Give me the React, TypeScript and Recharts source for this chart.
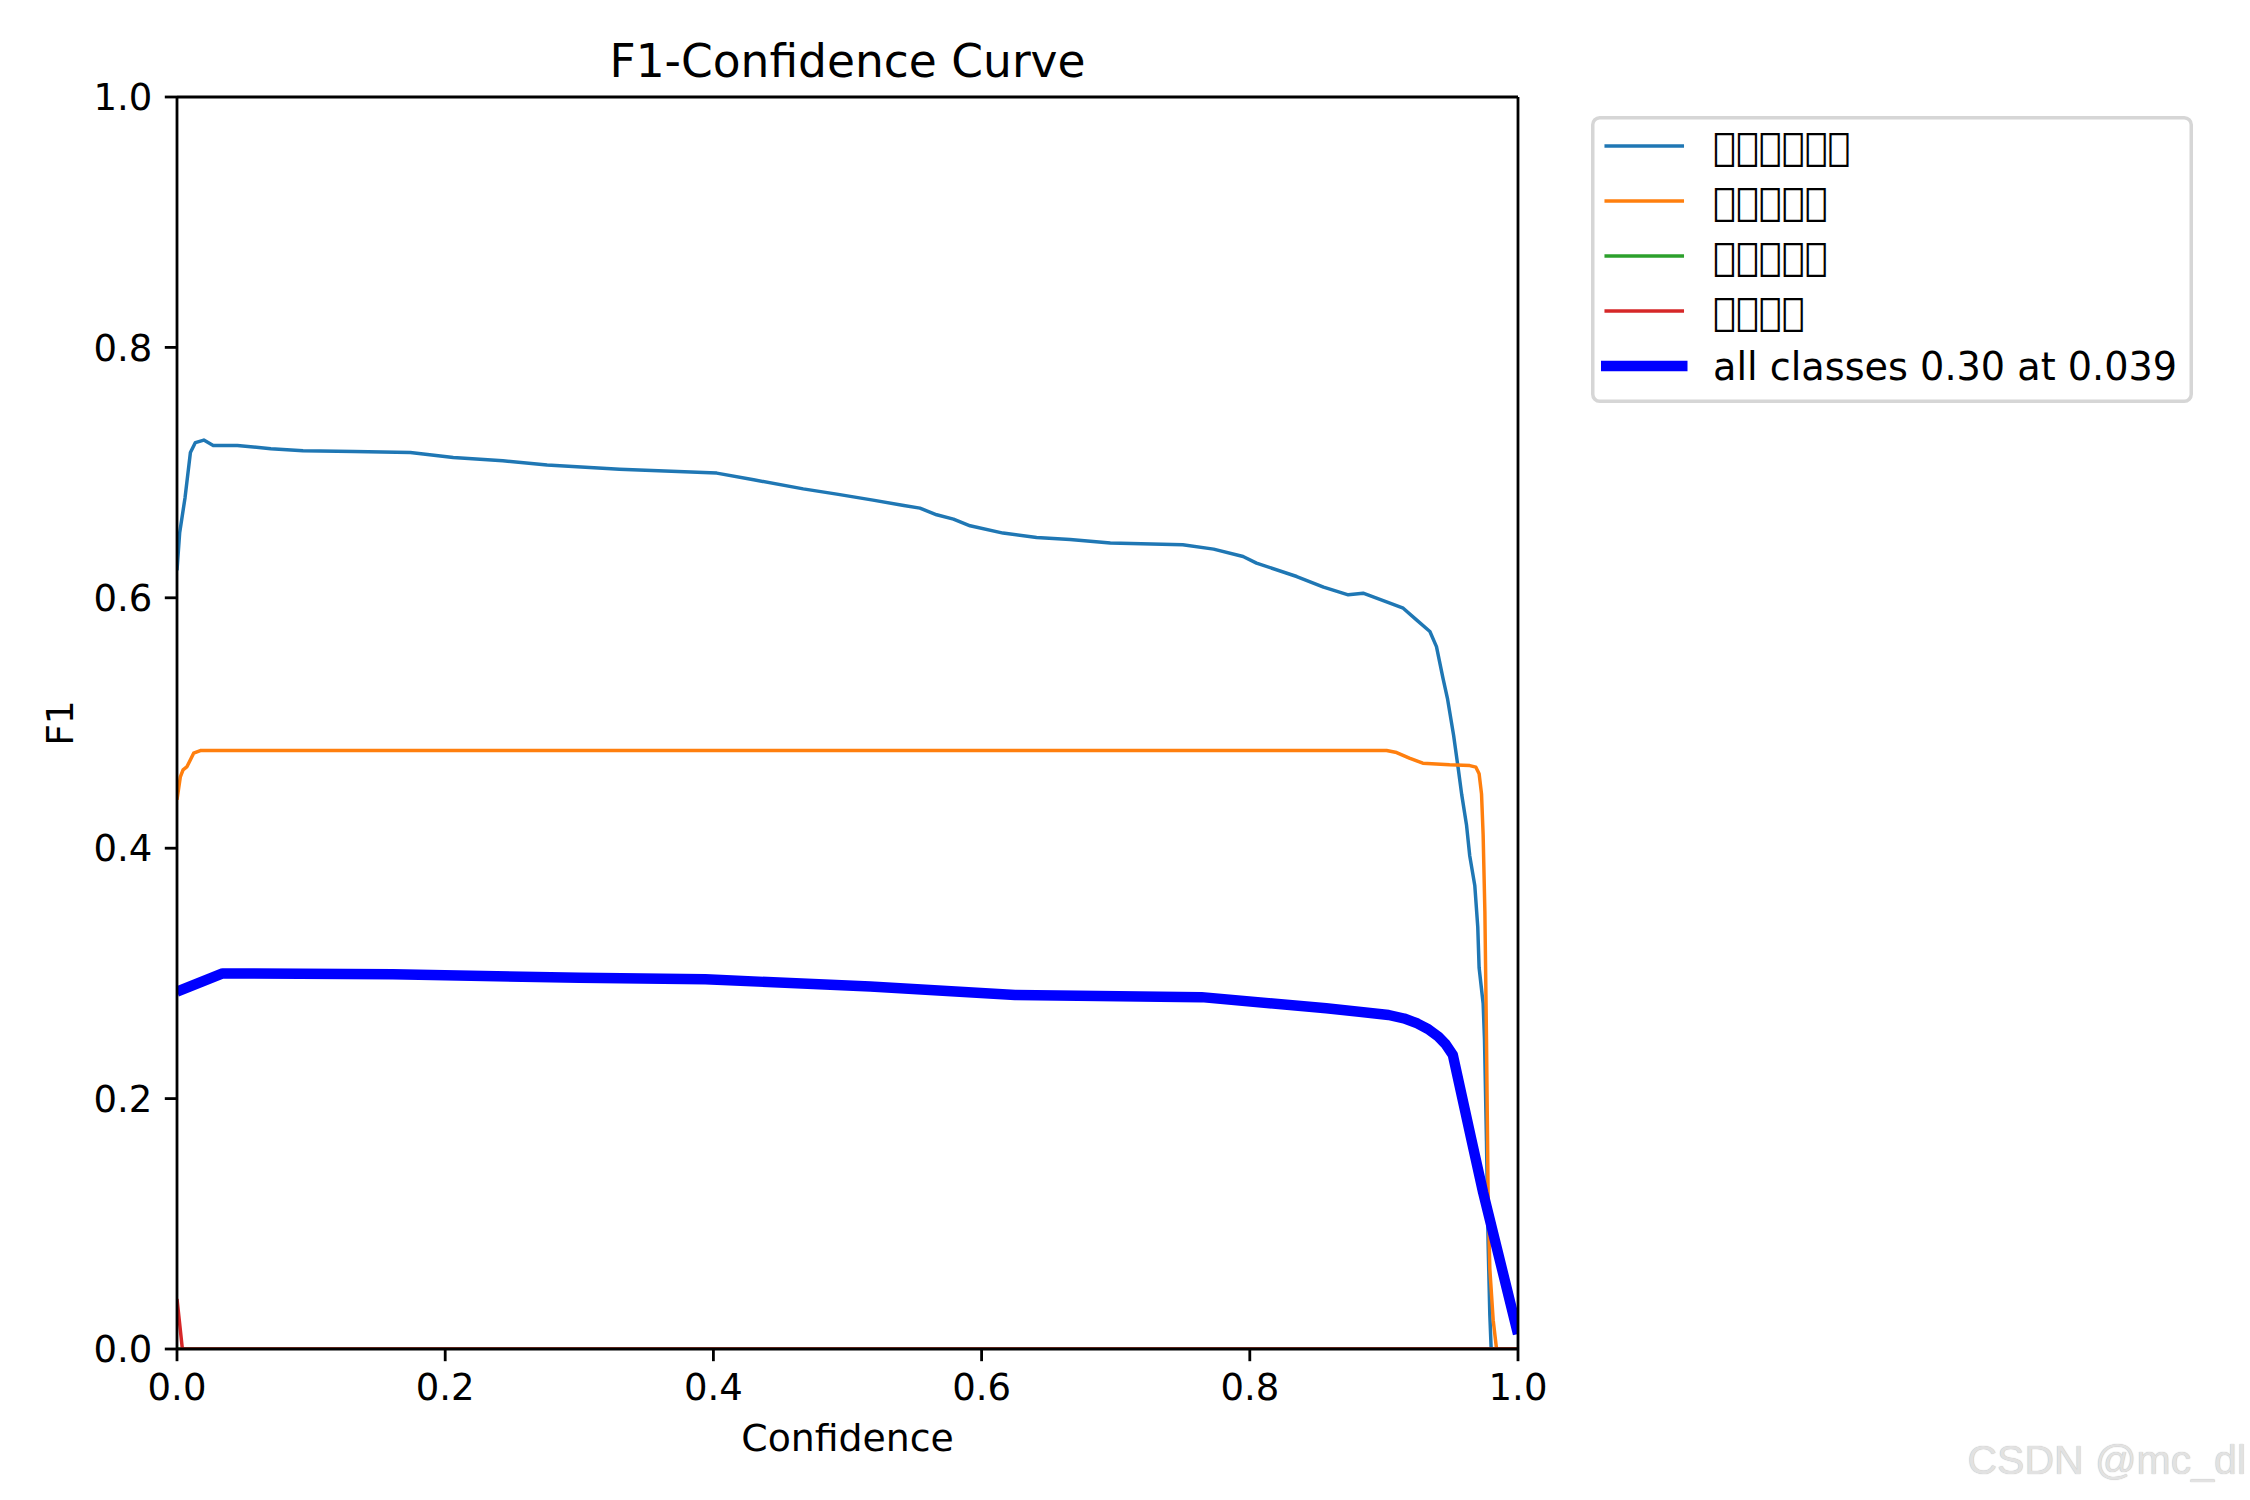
import React from 'react';
import { LineChart, Line, XAxis, YAxis, Legend, Label, ReferenceLine } from 'recharts';

// ---- tick values ----
const xTicks = [0, 0.2, 0.4, 0.6, 0.8, 1.0];
const yTicks = [0, 0.2, 0.4, 0.6, 0.8, 1.0];

// ---- class names (Chinese names rendered as missing-glyph boxes in the source) ----
const classNames = [
  '\uE000\uE000\uE000\uE000\uE000\uE000',
  '\uE000\uE000\uE000\uE000\uE000',
  '\uE000\uE000\uE000\uE000\uE000',
  '\uE000\uE000\uE000\uE000',
];
const allClassesName = 'all classes 0.30 at 0.039';
const chartTitle = 'F1-Confidence Curve';
const xLabel = 'Confidence';
const yLabel = 'F1';
const watermark = 'CSDN @mc_dl';

// ---- class 0 (blue) ----
const class0Conf = [0, 0.002, 0.006, 0.010, 0.0137, 0.020, 0.027, 0.045, 0.070, 0.094, 0.132, 0.174, 0.206, 0.243, 0.276, 0.330, 0.4025, 0.430, 0.467, 0.492, 0.519, 0.542, 0.554, 0.5665, 0.579, 0.5914, 0.616, 0.641, 0.666, 0.696, 0.750, 0.773, 0.795, 0.805, 0.835, 0.855, 0.8734, 0.8845, 0.8995, 0.9144, 0.9243, 0.9343, 0.9392, 0.944, 0.9475, 0.952, 0.9555, 0.958, 0.9616, 0.964, 0.9678, 0.970, 0.971, 0.974, 0.975, 0.9765, 0.9777, 0.979, 0.980, 1.0];
const class0F1 = [0.622, 0.652, 0.680, 0.716, 0.724, 0.726, 0.7217, 0.7217, 0.719, 0.7174, 0.7169, 0.716, 0.712, 0.7094, 0.706, 0.7026, 0.6996, 0.6943, 0.687, 0.6828, 0.678, 0.6737, 0.6716, 0.6663, 0.6628, 0.6575, 0.6517, 0.6482, 0.6466, 0.6437, 0.6423, 0.6389, 0.633, 0.6277, 0.617, 0.6085, 0.6024, 0.6037, 0.5978, 0.5917, 0.5824, 0.5731, 0.561, 0.536, 0.519, 0.49, 0.463, 0.443, 0.4186, 0.394, 0.370, 0.337, 0.3045, 0.276, 0.2476, 0.166, 0.0847, 0.027, 0.0, 0.0];

// ---- class 1 (orange) ----
const class1Conf = [0, 0.0025, 0.0045, 0.0075, 0.0124, 0.0174, 0.902, 0.9095, 0.919, 0.929, 0.949, 0.964, 0.9686, 0.971, 0.9728, 0.974, 0.9753, 0.9765, 0.9777, 0.979, 0.9815, 0.984, 1.0];
const class1F1 = [0.4386, 0.457, 0.4626, 0.4652, 0.4759, 0.478, 0.478, 0.4764, 0.4719, 0.4679, 0.4666, 0.466, 0.4647, 0.4595, 0.4434, 0.4106, 0.3494, 0.2476, 0.125, 0.064, 0.023, 0.0, 0.0];

// ---- class 2 (green) ----
const class2Conf = [0, 1.0];
const class2F1 = [0, 0];

// ---- class 3 (red) ----
const class3Conf = [0, 0.004, 1.0];
const class3F1 = [0.04, 0, 0];

// ---- all classes (thick blue) ----
const allConf = [0, 0.034, 0.161, 0.3, 0.394, 0.517, 0.625, 0.764, 0.857, 0.9035, 0.915, 0.925, 0.933, 0.9406, 0.946, 0.9514, 0.9653, 0.974, 1.0];
const allF1 = [0.2855, 0.300, 0.2993, 0.2965, 0.2953, 0.2895, 0.2828, 0.281, 0.2722, 0.2668, 0.264, 0.260, 0.2555, 0.2495, 0.2435, 0.2349, 0.167, 0.125, 0.012];

const toPoints = (xs: number[], ys: number[]) => xs.map((x, i) => ({ conf: x, f1: ys[i] }));

const FONT = 'DejaVu Sans';

const series = [
  { name: classNames[0], color: '#1f77b4', width: 3.47, data: toPoints(class0Conf, class0F1) },
  { name: classNames[1], color: '#ff7f0e', width: 3.47, data: toPoints(class1Conf, class1F1) },
  { name: classNames[2], color: '#2ca02c', width: 3.47, data: toPoints(class2Conf, class2F1) },
  { name: classNames[3], color: '#d62728', width: 3.47, data: toPoints(class3Conf, class3F1) },
  { name: allClassesName, color: '#0000ff', width: 10.4, data: toPoints(allConf, allF1) },
];

const LEG_W = 602;
const LEG_H = 287;

const LegendBox = () => (
  <svg width={LEG_W} height={LEG_H} style={{ display: 'block' }}>
    <rect x={1.75} y={1.75} width={LEG_W - 3.5} height={LEG_H - 3.5} rx={7} ry={7}
      fill="rgba(255,255,255,0.8)" stroke="#d6d6d6" strokeWidth={3.5} />
    {series.map((s, i) => {
      const cy = 30 + i * 55;
      return (
        <g key={i}>
          <line x1={15.2} x2={91.3} y1={cy} y2={cy} stroke={s.color} strokeWidth={s.width} strokeLinecap="square" />
          <text x={122} y={cy + 14} fontSize={38.2} fontFamily={FONT} fill="#000">{s.name}</text>
        </g>
      );
    })}
  </svg>
);

const axisLine = { stroke: '#000', strokeWidth: 2.8 };
const tickLine = { stroke: '#000', strokeWidth: 2.8 };
const tickStyle = { fontSize: 37, fill: '#000', fontFamily: FONT };

const YLabel = (props: any) => {
  const vb = props.viewBox || { x: 0, y: 0, width: 0, height: 0 };
  const cx = vb.x + 73;
  const cy = vb.y + vb.height / 2;
  return (
    <text x={cx} y={cy} transform={`rotate(-90, ${cx}, ${cy})`} textAnchor="middle"
      fontSize={37.5} fontFamily={FONT} fill="#000">{yLabel}</text>
  );
};

export default function App() {
  return (
    <div style={{ position: 'absolute', left: 0, top: 0, width: 2250, height: 1500, background: '#fff', overflow: 'hidden' }}>
      <LineChart width={2250} height={1500} margin={{ top: 97, right: 732, bottom: 0, left: 0 }}>
        <XAxis xAxisId={0} dataKey="conf" type="number" domain={[0, 1]} ticks={xTicks} interval={0}
          allowDataOverflow tickFormatter={(v: number) => v.toFixed(1)} height={151}
          tickSize={12.2} tickMargin={12.5} tick={tickStyle} tickLine={tickLine} axisLine={axisLine}>
          <Label value={xLabel} position="insideBottom" offset={49} fontSize={37.8} fontFamily={FONT} fill="#000" />
        </XAxis>
        <YAxis yAxisId={0} type="number" domain={[0, 1]} ticks={yTicks} interval={0} allowDataOverflow
          tickFormatter={(v: number) => v.toFixed(1)} width={177}
          tickSize={12.2} tickMargin={12.5} tick={tickStyle} tickLine={tickLine} axisLine={axisLine}>
          <Label content={<YLabel />} />
        </YAxis>
        {series.map((s, i) => (
          <Line key={i} xAxisId={0} yAxisId={0} data={s.data} dataKey="f1" name={s.name} type="linear"
            stroke={s.color} strokeWidth={s.width} strokeLinejoin="round" dot={false} activeDot={false}
            isAnimationActive={false} />
        ))}
        <ReferenceLine xAxisId={0} yAxisId={0} y={1} stroke="#000" strokeWidth={2.8} ifOverflow="visible"
          label={{ value: chartTitle, position: 'top', offset: 20, fontSize: 45.5, fontFamily: FONT, fill: '#000' }} />
        <ReferenceLine xAxisId={0} yAxisId={0} x={1} stroke="#000" strokeWidth={2.8} ifOverflow="visible" />
        <Legend layout="vertical" align="center" verticalAlign="middle" content={<LegendBox />}
          wrapperStyle={{ position: 'absolute', left: 1591, top: 116, width: LEG_W, height: LEG_H, margin: 0, padding: 0 }} />
      </LineChart>
      <div style={{ position: 'absolute', right: 4, top: 1440, fontFamily: 'Liberation Sans', fontSize: 41, lineHeight: '41px',
        color: '#e2e2e2', textShadow: '0 0 1px #aaaaaa', whiteSpace: 'nowrap' }}>{watermark}</div>
    </div>
  );
}
